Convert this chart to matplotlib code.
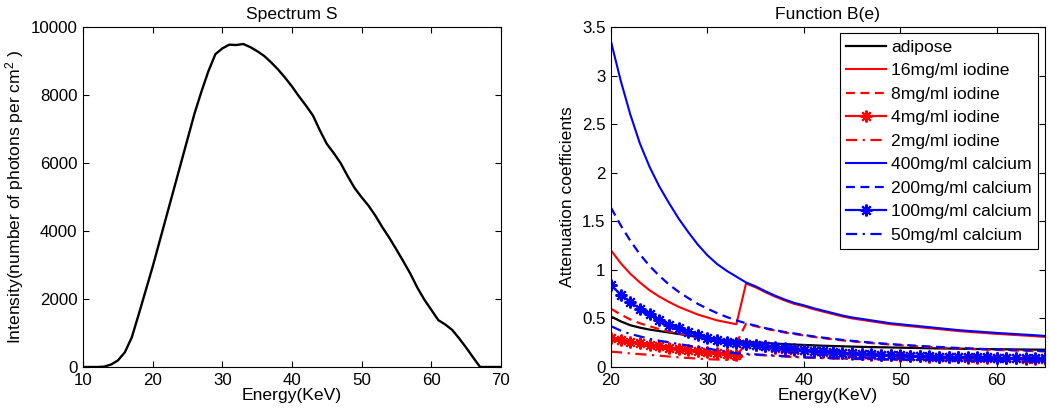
import matplotlib
matplotlib.use("Agg")
import matplotlib.pyplot as plt

plt.rcParams['font.family'] = ['Liberation Sans', 'DejaVu Sans']
plt.rcParams['mathtext.fontset'] = 'custom'
plt.rcParams['mathtext.rm'] = 'Liberation Sans'
plt.rcParams['mathtext.it'] = 'Liberation Sans'

# ---------------- data: spectrum ----------------
spec_energy = [10, 11, 12, 13, 14, 15, 16, 17, 18, 19, 20, 21, 22, 23, 24, 25, 26, 27, 28, 29,
               30, 31, 32, 33, 34, 35, 36, 37, 38, 39, 40, 41, 42, 43, 44, 45, 46, 47, 48, 49,
               50, 51, 52, 53, 54, 55, 56, 57, 58, 59, 60, 61, 62, 63, 64, 65, 66, 67, 68, 69, 70]
spec_intensity = [0, 0, 0, 10, 70, 190, 430, 870, 1550, 2250, 2950, 3700, 4450, 5200, 5950, 6700,
                  7450, 8100, 8700, 9200, 9370, 9480, 9470, 9500, 9410, 9290, 9150, 8960, 8750,
                  8510, 8250, 7960, 7690, 7400, 6960, 6560, 6290, 5990, 5610, 5260, 4990, 4740,
                  4440, 4100, 3790, 3450, 3100, 2740, 2330, 1980, 1680, 1380, 1250, 1090, 840,
                  570, 280, 0, 0, 0, 0]

# ---------------- data: attenuation B(e) ----------------
energy = list(range(20, 66))
adipose = [0.52, 0.47, 0.43, 0.405, 0.385, 0.37, 0.355, 0.34, 0.325, 0.31, 0.295, 0.285, 0.275,
           0.267, 0.26, 0.253, 0.247, 0.241, 0.236, 0.231, 0.227, 0.223, 0.219, 0.216, 0.213,
           0.21, 0.207, 0.205, 0.203, 0.201, 0.199, 0.197, 0.195, 0.193, 0.191, 0.19, 0.188,
           0.187, 0.185, 0.184, 0.183, 0.182, 0.181, 0.18, 0.179, 0.178]
iodine16 = [1.20, 1.07, 0.96, 0.87, 0.79, 0.725, 0.67, 0.62, 0.58, 0.54, 0.51, 0.48, 0.46, 0.44,
            0.86, 0.82, 0.77, 0.725, 0.685, 0.65, 0.625, 0.595, 0.57, 0.545, 0.52, 0.50, 0.485,
            0.47, 0.455, 0.44, 0.43, 0.42, 0.41, 0.40, 0.39, 0.38, 0.37, 0.362, 0.355, 0.348,
            0.341, 0.335, 0.329, 0.323, 0.317, 0.31]
iodine8 = [0.60, 0.54, 0.49, 0.45, 0.42, 0.39, 0.365, 0.345, 0.325, 0.305, 0.285, 0.27, 0.255,
           0.245, 0.445, 0.42, 0.395, 0.375, 0.355, 0.34, 0.325, 0.31, 0.297, 0.285, 0.274,
           0.264, 0.255, 0.246, 0.238, 0.231, 0.224, 0.218, 0.212, 0.206, 0.201, 0.196, 0.191,
           0.187, 0.183, 0.179, 0.175, 0.172, 0.169, 0.166, 0.163, 0.16]
iodine4 = [0.295, 0.275, 0.26, 0.243, 0.227, 0.213, 0.20, 0.19, 0.18, 0.168, 0.158, 0.145, 0.133,
           0.124, 0.235, 0.225, 0.215, 0.20, 0.188, 0.178, 0.17, 0.162, 0.155, 0.148, 0.142,
           0.137, 0.132, 0.127, 0.123, 0.119, 0.115, 0.112, 0.109, 0.106, 0.103, 0.101, 0.099,
           0.097, 0.095, 0.093, 0.091, 0.089, 0.088, 0.087, 0.086, 0.085]
iodine2 = [0.158, 0.15, 0.14, 0.132, 0.125, 0.117, 0.108, 0.10, 0.093, 0.086, 0.08, 0.077, 0.074,
           0.072, 0.128, 0.125, 0.12, 0.114, 0.108, 0.103, 0.097, 0.094, 0.091, 0.088, 0.085,
           0.083, 0.081, 0.079, 0.077, 0.075, 0.074, 0.073, 0.072, 0.071, 0.07, 0.069, 0.068,
           0.067, 0.066, 0.065, 0.065, 0.064, 0.064, 0.063, 0.063, 0.062]
calcium400 = [3.35, 2.95, 2.60, 2.30, 2.06, 1.86, 1.69, 1.53, 1.39, 1.26, 1.15, 1.06, 0.99, 0.93,
              0.87, 0.83, 0.78, 0.735, 0.695, 0.66, 0.635, 0.605, 0.58, 0.555, 0.53, 0.51, 0.495,
              0.48, 0.465, 0.45, 0.44, 0.43, 0.42, 0.41, 0.40, 0.39, 0.38, 0.372, 0.365, 0.358,
              0.351, 0.345, 0.339, 0.333, 0.327, 0.32]
calcium200 = [1.64, 1.46, 1.30, 1.16, 1.04, 0.94, 0.85, 0.775, 0.71, 0.65, 0.60, 0.555, 0.515,
              0.48, 0.45, 0.425, 0.40, 0.38, 0.36, 0.345, 0.33, 0.315, 0.302, 0.29, 0.279, 0.269,
              0.26, 0.251, 0.243, 0.236, 0.229, 0.223, 0.217, 0.211, 0.206, 0.201, 0.196, 0.192,
              0.188, 0.184, 0.18, 0.177, 0.174, 0.171, 0.168, 0.165]
calcium100 = [0.845, 0.745, 0.67, 0.60, 0.545, 0.485, 0.435, 0.40, 0.365, 0.33, 0.30, 0.28, 0.262,
              0.25, 0.24, 0.23, 0.22, 0.205, 0.193, 0.183, 0.175, 0.167, 0.16, 0.153, 0.147,
              0.142, 0.137, 0.132, 0.128, 0.124, 0.12, 0.117, 0.114, 0.111, 0.108, 0.106, 0.104,
              0.102, 0.1, 0.098, 0.096, 0.094, 0.093, 0.092, 0.091, 0.09]
calcium50 = [0.42, 0.375, 0.34, 0.315, 0.29, 0.27, 0.255, 0.237, 0.22, 0.205, 0.19, 0.172, 0.155,
             0.14, 0.135, 0.13, 0.124, 0.118, 0.112, 0.107, 0.10, 0.097, 0.094, 0.091, 0.088,
             0.086, 0.084, 0.082, 0.08, 0.078, 0.077, 0.076, 0.075, 0.074, 0.073, 0.072, 0.071,
             0.07, 0.069, 0.068, 0.068, 0.067, 0.067, 0.066, 0.066, 0.065]

series_labels = ['adipose', '16mg/ml iodine', '8mg/ml iodine', '4mg/ml iodine', '2mg/ml iodine',
                 '400mg/ml calcium', '200mg/ml calcium', '100mg/ml calcium', '50mg/ml calcium']
series_values = [adipose, iodine16, iodine8, iodine4, iodine2,
                 calcium400, calcium200, calcium100, calcium50]

# styles
BLUE = '#0000ff'
RED = '#ff0000'
MK = dict(marker=(8, 2, 0), ms=8.5, mew=1.5)
styles = [
    dict(color='black', ls='-', lw=1.6),
    dict(color=RED, ls='-', lw=1.5),
    dict(color=RED, ls=(0, (4, 2.5)), lw=1.6),
    dict(color=RED, ls='-', lw=1.6, **MK),
    dict(color=RED, ls=(0, (5, 2.5, 1, 2.5)), lw=1.6),
    dict(color=BLUE, ls='-', lw=1.5),
    dict(color=BLUE, ls=(0, (4, 2.5)), lw=1.6),
    dict(color=BLUE, ls='-', lw=1.6, **MK),
    dict(color=BLUE, ls=(0, (5, 2.5, 1, 2.5)), lw=1.6),
]

fig = plt.figure(figsize=(10.5, 4.12), dpi=100)
W, H = 1050, 412
ax1 = fig.add_axes([83 / W, (H - 367) / H, 418 / W, 340 / H])
ax2 = fig.add_axes([611 / W, (H - 367) / H, 434 / W, 340 / H])

FS = 12.6
TFS = 12.2

def style_axes(ax):
    ax.tick_params(direction='in', length=4, width=0.8, top=True, right=True,
                   labelsize=TFS, pad=4, color='black')
    for sp in ax.spines.values():
        sp.set_linewidth(0.8)
        sp.set_color('black')

# left panel
ax1.plot(spec_energy, spec_intensity, color='black', lw=1.7)
ax1.set_xlim(10, 70)
ax1.set_ylim(0, 10000)
ax1.set_xticks([10, 20, 30, 40, 50, 60, 70])
ax1.set_yticks([0, 2000, 4000, 6000, 8000, 10000])
ax1.set_title('Spectrum S', fontsize=FS, pad=6)
ax1.set_xlabel('Energy(KeV)', fontsize=FS)
ax1.set_ylabel('Intensity(number of photons per cm$^{2}$ )', fontsize=FS)
ax1.yaxis.set_label_coords(-0.136, 0.5)
ax1.xaxis.set_label_coords(0.5, -0.062)
style_axes(ax1)

# right panel
for vals, lab, st in zip(series_values, series_labels, styles):
    ax2.plot(energy, vals, label=lab, **st)
ax2.set_xlim(20, 65)
ax2.set_ylim(0, 3.5)
ax2.set_xticks([20, 30, 40, 50, 60])
ax2.set_yticks([0, 0.5, 1, 1.5, 2, 2.5, 3, 3.5])
ax2.set_yticklabels(['0', '0.5', '1', '1.5', '2', '2.5', '3', '3.5'])
ax2.set_title('Function B(e)', fontsize=FS, pad=6)
ax2.set_xlabel('Energy(KeV)', fontsize=FS)
ax2.set_ylabel('Attenuation coefficients', fontsize=FS)
ax2.yaxis.set_label_coords(-0.083, 0.5)
ax2.xaxis.set_label_coords(0.5, -0.062)
style_axes(ax2)

leg = ax2.legend(loc='upper right', bbox_to_anchor=(0.984, 0.982), borderaxespad=0,
                 fontsize=FS, fancybox=False, framealpha=1, edgecolor='black',
                 labelspacing=0.47, handlelength=2.3, handletextpad=0.25, borderpad=0.38,
                 numpoints=1)
leg.get_frame().set_linewidth(0.8)

fig.savefig('out.png', dpi=100)
